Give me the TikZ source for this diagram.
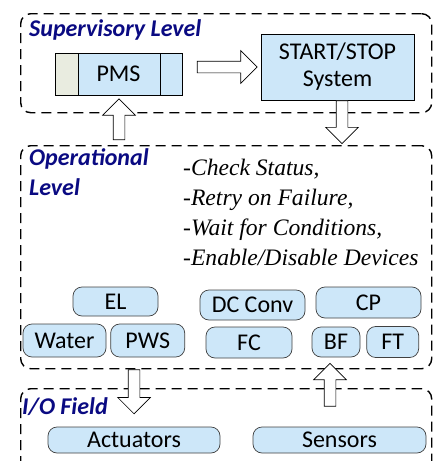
\documentclass[tikz,border=0pt]{standalone}
\usepackage{fontspec}
\setmainfont{Liberation Serif}
\setsansfont{Carlito}
\usetikzlibrary{shapes.arrows,positioning}

\definecolor{boxblue}{RGB}{205,231,249}
\definecolor{pmsgrey}{RGB}{233,236,224}
\definecolor{lvlblue}{RGB}{10,10,130}

\tikzset{
  level/.style={draw,dashed,dash pattern=on 10pt off 6pt,line width=1.4pt,rounded corners=10pt,inner sep=0pt},
  lvltext/.style={text=lvlblue,font=\sffamily\bfseries\itshape\fontsize{24}{30}\selectfont,inner sep=0pt,align=left},
  sysbox/.style={draw,fill=boxblue,line width=0.7pt,inner sep=0pt,font=\sffamily\fontsize{24}{27}\selectfont,align=center},
  dev/.style={draw=black!75,fill=boxblue,line width=0.7pt,rounded corners=9pt,inner sep=0pt,font=\sffamily\fontsize{24}{27}\selectfont},
  bigarrow/.style={single arrow,draw,fill=white,line width=0.7pt,inner sep=5.5pt,single arrow head extend=10.5pt}
}

\begin{document}
\begin{tikzpicture}[x=1pt,y=-1pt,node distance=6pt]
\path[use as bounding box,clip] (0,0) rectangle (433,461);

% the three levels
\node[level,minimum width=411pt,minimum height=99pt,anchor=north west] (sup) at (20,13) {};
\node[level,minimum width=411pt,minimum height=223pt,anchor=north west] (op) at (20,145) {};
\node[level,minimum width=411pt,minimum height=110pt,anchor=north west] (io) at (20,388) {};

\node[lvltext,anchor=west] (suplbl) at (29,30) {Supervisory Level};
\node[lvltext,anchor=north west] (oplbl) at (29,148) {Operational\\Level};
\node[lvltext,anchor=west] (iolbl) at (22,407) {I/O Field};

% supervisory level
\node[sysbox,minimum width=127pt,minimum height=42pt,
  path picture={
    \fill[pmsgrey] (path picture bounding box.north west) rectangle ([xshift=23pt]path picture bounding box.south west);
    \draw[line width=0.7pt] ([xshift=23pt]path picture bounding box.north west) -- ([xshift=23pt]path picture bounding box.south west);
    \draw[line width=0.7pt] ([xshift=-22pt]path picture bounding box.north east) -- ([xshift=-22pt]path picture bounding box.south east);
  }] (pms) at (118.5,74) {PMS};
\node[sysbox,minimum width=153pt,minimum height=66pt] (ss) at (337.5,67) {START/STOP\\System};

% operational level
\node[anchor=west,inner sep=0pt,align=left,font=\itshape\fontsize{23.6}{30}\selectfont] (tasks) at (183,212)
  {-Check Status,\\-Retry on Failure,\\-Wait for Conditions,\\-Enable/Disable Devices};

\node[dev,minimum width=85pt,minimum height=29pt] (el) at (115.5,301.5) {EL};
\node[dev,minimum width=83pt,minimum height=33pt] (water) at (64.5,340.5) {Water};
\node[dev,minimum width=74pt,minimum height=33pt,right=4pt of water] (pws) {PWS};
\node[dev,minimum width=105pt,minimum height=30pt] (dcc) at (252.5,305) {DC Conv};
\node[dev,minimum width=86pt,minimum height=31pt] (fc) at (249,342.5) {FC};
\node[dev,minimum width=105pt,minimum height=31pt] (cp) at (368.5,302.5) {CP};
\node[dev,minimum width=48pt,minimum height=30pt] (bf) at (336,342) {BF};
\node[dev,minimum width=52pt,minimum height=31pt,right=6pt of bf] (ft) {FT};

% field level
\node[dev,minimum width=172pt,minimum height=26pt] (act) at (134,440) {Actuators};
\node[dev,minimum width=173pt,minimum height=26pt] (sens) at (339.5,440) {Sensors};

% block arrows between levels
\node[bigarrow,minimum height=60pt,anchor=tip] (a1) at ([xshift=-3pt]ss.west) {};
\node[bigarrow,minimum height=41pt,rotate=90,anchor=tip] (a2) at ([xshift=0.5pt,yshift=-3pt]pms.south) {};
\node[bigarrow,minimum height=43pt,rotate=-90,anchor=tail] (a3) at ([xshift=4.5pt]ss.south) {};
\node[bigarrow,minimum height=44pt,rotate=-90,anchor=tail] (a4) at (op.south -| act.north) {};
\node[bigarrow,minimum height=43pt,rotate=90,anchor=tail] (a5) at ([xshift=-9.5pt,yshift=20pt]sens.north) {};
\end{tikzpicture}
\end{document}
